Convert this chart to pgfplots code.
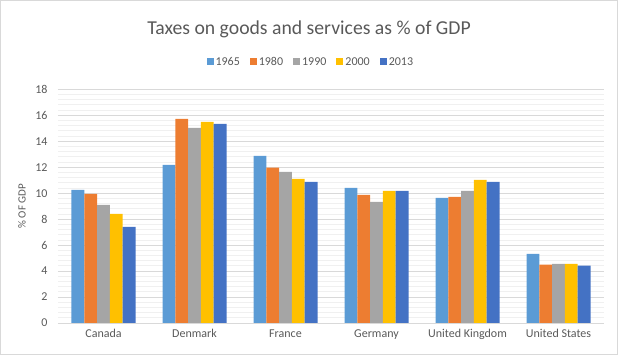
\documentclass[border=0pt]{standalone}
\usepackage{pgfplots}
\pgfplotsset{compat=1.18}
\usepackage{fontspec}
\setmainfont{Carlito}
\definecolor{c1}{HTML}{5B9BD5}
\definecolor{c2}{HTML}{ED7D31}
\definecolor{c3}{HTML}{A5A5A5}
\definecolor{c4}{HTML}{FFC000}
\definecolor{c5}{HTML}{4472C4}
\definecolor{txt}{HTML}{595959}
\definecolor{gmaj}{HTML}{D9D9D9}
\definecolor{gmin}{HTML}{F0F0F0}
\begin{document}
\begin{tikzpicture}
\path[use as bounding box, draw=gmaj, line width=0.8bp] (0.4bp,0.4bp) rectangle (617.6bp,354.6bp);
\node[text=txt, font=\fontsize{19.7bp}{23bp}\selectfont] at (309bp,326bp) {Taxes on goods and services as \% of GDP};
\begin{axis}[
  at={(58bp,32bp)}, anchor=south west,
  scale only axis, width=546bp, height=233.7bp,
  ybar=0pt, bar width=12.8bp,
  xmin=-0.5, xmax=5.5, ymin=0, ymax=18,
  xtick={0,1,2,3,4,5},
  xticklabels={Canada,Denmark,France,Germany,United Kingdom,United States},
  ytick={0,2,...,18},
  minor y tick num=4,
  ymajorgrids, yminorgrids,
  major grid style={gmaj, line width=0.8bp},
  minor grid style={gmin, line width=0.8bp},
  axis line style={draw=none},
  axis x line*=bottom,
  x axis line style={draw=gmaj, line width=0.8bp},
  axis y line*=left,
  major tick length=0pt, minor tick length=0pt,
  tick style={draw=none},
  /pgf/number format/assume math mode=true,
  ticklabel style={text=txt, font=\fontsize{12bp}{14bp}\selectfont},
  yticklabel style={xshift=-7bp},
  xticklabel style={yshift=-3bp},
  ylabel={\% OF GDP},
  ylabel style={at={(axis description cs:-0.066,0.5)}, anchor=center, text=txt, font=\fontsize{11bp}{13bp}\selectfont},
  legend columns=5,
  legend style={at={(0.463,1.117)}, anchor=center, draw=none, fill=none,
    font=\fontsize{12bp}{14bp}\selectfont, text=txt,
    /tikz/every even column/.append style={column sep=8bp}},
  legend image code/.code={\fill[#1] (0bp,-3.5bp) rectangle (7bp,3.5bp);},
  legend cell align=left,
]
\addplot[fill=c1, draw=none] coordinates {(0,10.26) (1,12.18) (2,12.87) (3,10.41) (4,9.64) (5,5.33)};
\addplot[fill=c2, draw=none] coordinates {(0,9.95) (1,15.72) (2,11.97) (3,9.87) (4,9.72) (5,4.49)};
\addplot[fill=c3, draw=none] coordinates {(0,9.10) (1,15.03) (2,11.64) (3,9.33) (4,10.18) (5,4.56)};
\addplot[fill=c4, draw=none] coordinates {(0,8.41) (1,15.49) (2,11.10) (3,10.18) (4,11.03) (5,4.56)};
\addplot[fill=c5, draw=none] coordinates {(0,7.41) (1,15.33) (2,10.87) (3,10.18) (4,10.87) (5,4.41)};
\legend{1965,1980,1990,2000,2013}
\end{axis}
\end{tikzpicture}
\end{document}
